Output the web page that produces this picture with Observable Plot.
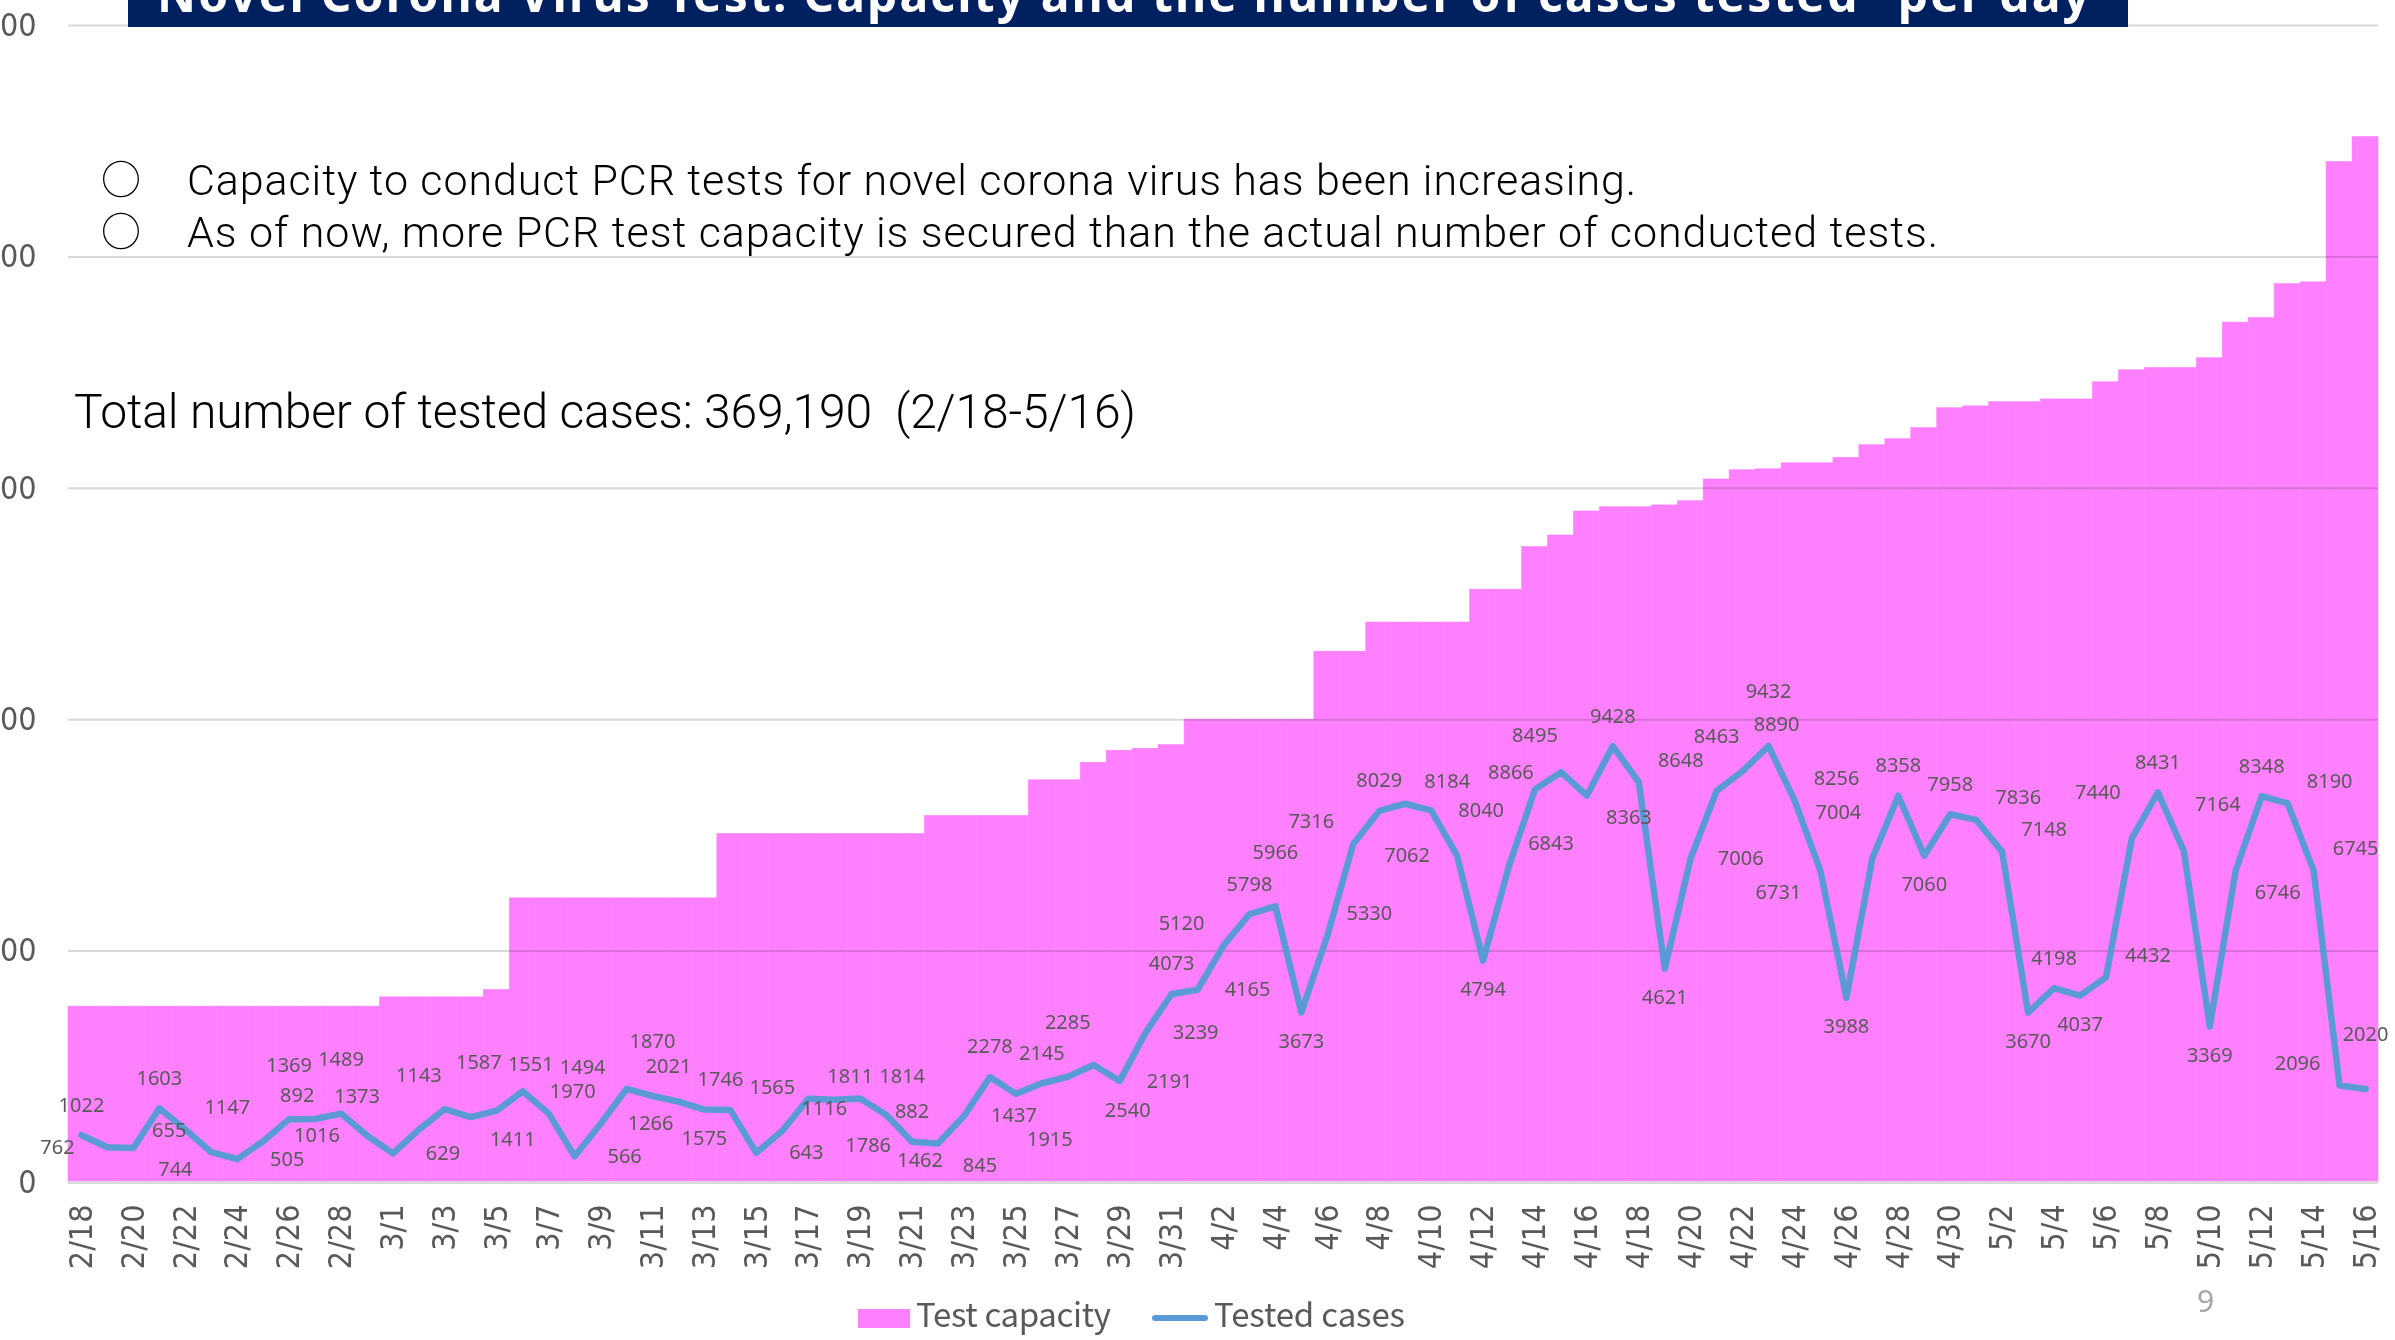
<!DOCTYPE html>
<html>
<head>
<meta charset="utf-8">
<script src="https://cdn.jsdelivr.net/npm/d3@7"></script>
<script src="https://cdn.jsdelivr.net/npm/@observablehq/plot@0.6"></script>
<style>
html, body { margin: 0; padding: 0; background: #fff; }
#page { position: relative; width: 2395px; height: 1340px; overflow: hidden; background: #fff; }
#chart { position: absolute; left: 0; top: 0; }
#chart g[aria-label="x-axis tick label"], #chart g[aria-label="y-axis tick label"] {
  font-family: "Liberation Sans Narrow", "DejaVu Sans Condensed", "Roboto", sans-serif;
}
.ov { position: absolute; white-space: pre; color: #000; font-family: "Roboto", "Noto Sans", sans-serif; font-weight: 300; line-height: 1; }
#titlebar { position: absolute; left: 128px; top: 0; width: 2000px; height: 27px; background: #002060; overflow: hidden; z-index: 5; }
#titletext { color: #fff; font-family: "Noto Sans", "Open Sans", sans-serif; font-weight: 700; font-size: 48px; }
.leg { color: #595959; font-family: "Noto Sans CJK JP", "Noto Sans", sans-serif; font-weight: 400; font-size: 33px; }
#swatch { position: absolute; left: 858px; top: 1309px; width: 52px; height: 19px; background: #ff80ff; }
#lineSw { position: absolute; left: 1152px; top: 1315px; width: 56px; height: 6px; border-radius: 3px; background: #5b9bd5; }
</style>
</head>
<body>
<div id="page">
  <div id="chart"></div>
  <div id="titlebar"><div id="titletext" class="ov">Novel Corona Virus Test: Capacity and the number of cases tested "per day"</div></div>
  <div id="b1" class="ov" style="font-family:'Noto Sans CJK JP','DejaVu Sans',sans-serif;font-size:40px;">○</div>
  <div id="b2" class="ov" style="font-family:'Noto Sans CJK JP','DejaVu Sans',sans-serif;font-size:40px;">○</div>
  <div id="l1" class="ov" style="font-size:43px;">Capacity to conduct PCR tests for novel corona virus has been increasing.</div>
  <div id="l2" class="ov" style="font-size:43px;">As of now, more PCR test capacity is secured than the actual number of conducted tests.</div>
  <div id="tot" class="ov" style="font-size:48px;">Total number of tested cases: 369,190  (2/18-5/16)</div>
  <div id="swatch"></div>
  <div id="lg1" class="ov leg">Test capacity</div>
  <div id="lineSw"></div>
  <div id="lg2" class="ov leg">Tested cases</div>
  <div id="pg" class="ov" style="color:#a6a6a6;font-family:'Noto Sans',sans-serif;font-weight:400;font-size:30px;">9</div>
</div>
<script>
const dates = [
  "2/18","2/19","2/20","2/21","2/22","2/23","2/24","2/25","2/26","2/27","2/28","2/29",
  "3/1","3/2","3/3","3/4","3/5","3/6","3/7","3/8","3/9","3/10","3/11","3/12","3/13","3/14","3/15","3/16","3/17","3/18","3/19","3/20","3/21","3/22","3/23","3/24","3/25","3/26","3/27","3/28","3/29","3/30","3/31",
  "4/1","4/2","4/3","4/4","4/5","4/6","4/7","4/8","4/9","4/10","4/11","4/12","4/13","4/14","4/15","4/16","4/17","4/18","4/19","4/20","4/21","4/22","4/23","4/24","4/25","4/26","4/27","4/28","4/29","4/30",
  "5/1","5/2","5/3","5/4","5/5","5/6","5/7","5/8","5/9","5/10","5/11","5/12","5/13","5/14","5/15","5/16"
];
const capacity = [
  3800,3800,3800,3800,3800,3800,3800,3800,3800,3800,3800,3800,
  4000,4000,4000,4000,4160,6140,6140,6140,6140,6140,6140,6140,6140,7530,7530,7530,7530,7530,7530,7530,7530,7920,7920,7920,7920,8690,8690,9070,9330,9370,9450,
  10000,10000,10000,10000,10000,11470,11470,12100,12100,12100,12100,12810,12810,13730,13980,14500,14590,14590,14630,14720,15190,15390,15410,15540,15540,15660,15930,16060,16300,16730,
  16770,16860,16860,16920,16920,17290,17550,17600,17600,17810,18580,18680,19410,19450,22050,22590
];
const tested = [
  1022,762,744,1603,1147,655,505,892,1369,1373,1489,1016,
  629,1143,1587,1411,1551,1970,1494,566,1266,2021,1870,1746,1575,1565,643,1116,1811,1786,1814,1462,882,845,1437,2278,1915,2145,2285,2540,2191,3239,4073,
  4165,5120,5798,5966,3673,5330,7316,8029,8184,8040,7062,4794,6843,8495,8866,8363,9428,8648,4621,7006,8463,8890,9432,8256,6731,3988,7004,8358,7060,7958,
  7836,7148,3670,4198,4037,4432,7440,8431,7164,3369,6746,8348,8190,6745,2096,2020
];
const yTicks = [0, 5000, 10000, 15000, 20000, 25000];
const xTicks = dates.filter((d, i) => i % 2 === 0);

const W = 2395, H = 1300, ML = 68, MR = 17, MT = 25, MB = 118;
const data = dates.map((d, i) => ({date: d, capacity: capacity[i], tested: tested[i], i}));

// --- data label placement (greedy collision avoidance, computed from the same scales) ---
const xs = d3.scaleBand().domain(dates).range([ML, W - MR]).padding(0);
const ys = d3.scaleLinear().domain([0, 25000]).range([H - MB, MT]);
const pts = data.map(d => [xs(d.date) + xs.bandwidth() / 2, ys(d.tested)]);
const cands = [[0,-30],[0,29],[-42,-22],[42,-22],[-42,22],[42,22],[-50,0],[50,0],[0,-54],[0,52],[-34,-46],[34,-46],[-34,46],[34,46]];
const isMin = i => i > 0 && i < tested.length - 1 && tested[i] < tested[i - 1] && tested[i] < tested[i + 1];
const placed = [];
function boxFor(i, k) {
  const [px, py] = pts[i];
  const w = String(tested[i]).length * 11.6 + 2, h = 22;
  const cx = px + cands[k][0], cy = py + cands[k][1];
  return [cx - w / 2, cy - h / 2, cx + w / 2, cy + h / 2];
}
function hitsLine(b, i) {
  for (let j = Math.max(0, i - 3); j < Math.min(pts.length - 1, i + 3); j++) {
    const [x0, y0] = pts[j], [x1, y1] = pts[j + 1];
    const steps = Math.ceil(Math.hypot(x1 - x0, y1 - y0) / 2);
    for (let s = 0; s <= steps; s++) {
      const x = x0 + (x1 - x0) * s / steps, y = y0 + (y1 - y0) * s / steps;
      if (x > b[0] - 4 && x < b[2] + 4 && y > b[1] - 4 && y < b[3] + 4) return true;
    }
  }
  return false;
}
function hitsLabels(b) {
  return placed.some(p => !(b[2] + 2 < p[0] || b[0] - 2 > p[2] || b[3] + 1 < p[1] || b[1] - 1 > p[3]));
}
const choice = data.map(d => {
  const order = isMin(d.i) ? [1,5,4,7,6,9,13,12,0,3,2,8,11,10] : [0,3,2,7,6,8,11,10,1,5,4,9,13,12];
  let pick = null;
  for (const k of order) {
    const b = boxFor(d.i, k);
    if (b[3] > H - MB + 2 || b[1] < MT || b[0] < 2 || b[2] > W - 4) continue;
    if (!hitsLine(b, d.i) && !hitsLabels(b)) { pick = k; break; }
  }
  if (pick === null) {
    for (const k of order) {
      const b = boxFor(d.i, k);
      if (b[3] > H - MB + 2 || b[1] < MT || b[0] < 2 || b[2] > W - 4) continue;
      if (!hitsLabels(b)) { pick = k; break; }
    }
  }
  if (pick === null) pick = order[0];
  placed.push(boxFor(d.i, pick));
  return pick;
});
const labelMarks = cands.map((c, k) =>
  Plot.text(data.filter(d => choice[d.i] === k),
    {x: "date", y: "tested", text: d => String(d.tested), dx: c[0], dy: c[1], fontSize: 20, fill: "#595959"})
);

const chart = Plot.plot({
  width: W,
  height: H,
  marginLeft: ML,
  marginRight: MR,
  marginTop: MT,
  marginBottom: MB,
  x: {type: "band", domain: dates, padding: 0, label: null},
  y: {domain: [0, 25000], label: null},
  style: {fontFamily: "'Noto Sans', sans-serif", color: "#595959", background: "transparent"},
  marks: [
    Plot.barY(data, {x: "date", y: "capacity", fill: "#ff80ff", stroke: "#ff80ff", strokeWidth: 0.6}),
    Plot.ruleY(yTicks.slice(1), {stroke: "#d9d9d9", strokeWidth: 2, mixBlendMode: "multiply"}),
    Plot.ruleY([0], {stroke: "#d9d9d9", strokeWidth: 3}),
    Plot.lineY(data, {x: "date", y: "tested", stroke: "#5b9bd5", strokeWidth: 6.5, strokeLinejoin: "round", strokeLinecap: "round"}),
    ...labelMarks,
    Plot.axisY({ticks: yTicks, tickSize: 0, tickPadding: 32, fontSize: 32, label: null}),
    Plot.axisX({ticks: xTicks, tickRotate: -90, tickSize: 0, tickPadding: 22, fontSize: 32, label: null})
  ]
});
document.getElementById("chart").appendChild(chart);

function place(id, x, baseline, targetWidth) {
  const el = document.getElementById(id);
  el.style.letterSpacing = "0px";
  el.style.left = x + "px";
  el.style.top = "0px";
  const probe = document.createElement("span");
  probe.style.display = "inline-block";
  probe.style.width = "0";
  probe.style.height = "0";
  probe.style.verticalAlign = "baseline";
  el.appendChild(probe);
  const b = probe.getBoundingClientRect().bottom - el.getBoundingClientRect().top;
  el.removeChild(probe);
  el.style.top = (baseline - b) + "px";
  if (targetWidth) {
    const w = el.getBoundingClientRect().width;
    const n = Math.max(1, el.textContent.length - 1);
    el.style.letterSpacing = ((targetWidth - w) / n) + "px";
  }
}
function layout() {
  place("titletext", 29, 12, 1960);
  place("b1", 101, 194);
  place("b2", 101, 246);
  place("l1", 187, 195, 1449);
  place("l2", 187, 247, 1751);
  place("tot", 74, 428, 1062);
  place("lg1", 916, 1327, 195);
  place("lg2", 1214, 1327, 191);
  place("pg", 2197, 1312);
}
layout();
if (document.fonts && document.fonts.ready) document.fonts.ready.then(layout);
</script>
</body>
</html>
